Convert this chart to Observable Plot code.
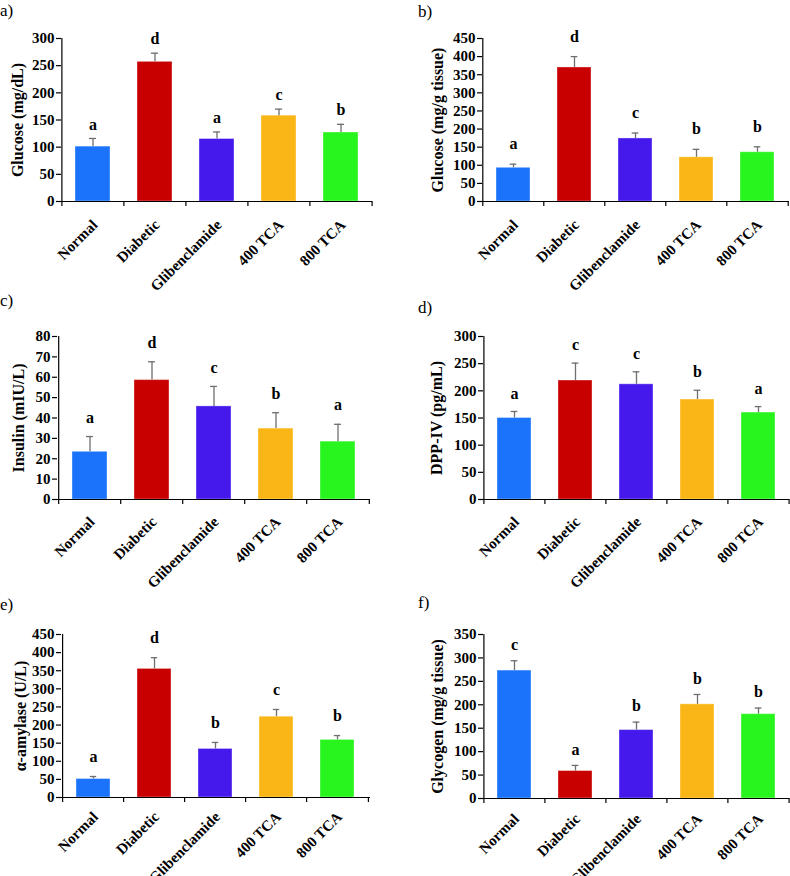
<!DOCTYPE html>
<html><head><meta charset="utf-8">
<script src="https://cdn.jsdelivr.net/npm/d3@7"></script>
<script src="https://cdn.jsdelivr.net/npm/@observablehq/plot@0.6"></script>
<style>
html,body{margin:0;padding:0;background:#fff;overflow:hidden;}
#wrap{position:relative;width:790px;height:876px;}
.panel{position:absolute;}
.plab{position:absolute;font-family:"Liberation Serif","Times New Roman",serif;font-size:17px;line-height:1;color:#000;}
</style></head>
<body><div id="wrap"></div>
<script>
// ---- data ----
const groups = ["Normal", "Diabetic", "Glibenclamide", "400 TCA", "800 TCA"];
const groupColors = ["#1a73fa", "#c80000", "#4519ec", "#fab616", "#28f51e"];

const panelLetters = ["a)", "b)", "c)", "d)", "e)", "f)"];
const yTitles = ["Glucose (mg/dL)", "Glucose (mg/g tissue)", "Insulin (mIU/L)", "DPP-IV (pg/mL)", "α-amylase (U/L)", "Glycogen (mg/g tissue)"];

const serumGlucose = [101, 257, 115, 158, 127];
const serumGlucoseErr = [15, 16, 13, 12, 15];
const serumGlucoseSig = ["a", "d", "a", "c", "b"];
const serumGlucoseTicks = [0, 50, 100, 150, 200, 250, 300];

const tissueGlucose = [93, 370, 174, 122, 136];
const tissueGlucoseErr = [10, 30, 15, 22, 15];
const tissueGlucoseSig = ["a", "d", "c", "b", "b"];
const tissueGlucoseTicks = [0, 50, 100, 150, 200, 250, 300, 350, 400, 450];

const insulin = [23.4, 58.6, 45.7, 34.8, 28.4];
const insulinErr = [7.5, 9, 9.8, 7.8, 8.5];
const insulinSig = ["a", "d", "c", "b", "a"];
const insulinTicks = [0, 10, 20, 30, 40, 50, 60, 70, 80];

const dpp4 = [150, 219, 212, 184, 160];
const dpp4Err = [12, 32, 23, 17, 11];
const dpp4Sig = ["a", "c", "c", "b", "a"];
const dpp4Ticks = [0, 50, 100, 150, 200, 250, 300];

const amylase = [51, 355, 134, 223, 159];
const amylaseErr = [7, 31, 18, 20, 12];
const amylaseSig = ["a", "d", "b", "c", "b"];
const amylaseTicks = [0, 50, 100, 150, 200, 250, 300, 350, 400, 450];

const glycogen = [273, 58.6, 146, 201, 180];
const glycogenErr = [21, 12, 17, 21, 13];
const glycogenSig = ["c", "a", "b", "b", "b"];
const glycogenTicks = [0, 50, 100, 150, 200, 250, 300, 350];

// ---- layout ----
const layouts = [
  {left: 0,   top: 0,   w: 395, h: 290, ml: 61, mr: 23, mt: 38, mb: 89, lo: 50, ldy: 14, xp: 21, lx: 0,   ly: 2},
  {left: 395, top: 0,   w: 395, h: 290, ml: 87, mr: 1,  mt: 38, mb: 89, lo: 51, ldy: 20, xp: 21, lx: 418, ly: 3},
  {left: 0,   top: 290, w: 395, h: 290, ml: 57, mr: 25, mt: 46, mb: 81, lo: 45, ldy: 19, xp: 20, lx: 0,   ly: 292},
  {left: 395, top: 290, w: 395, h: 290, ml: 88, mr: 1,  mt: 46, mb: 81, lo: 53, ldy: 18, xp: 20, lx: 418, ly: 299},
  {left: 0,   top: 580, w: 395, h: 296, ml: 61, mr: 25, mt: 54, mb: 79, lo: 47, ldy: 20, xp: 17, lx: 0,   ly: 596},
  {left: 395, top: 580, w: 395, h: 296, ml: 88, mr: 1,  mt: 54, mb: 78, lo: 52, ldy: 16, xp: 18, lx: 418, ly: 594}
];

const panels = [
  [serumGlucose, serumGlucoseErr, serumGlucoseSig, serumGlucoseTicks],
  [tissueGlucose, tissueGlucoseErr, tissueGlucoseSig, tissueGlucoseTicks],
  [insulin, insulinErr, insulinSig, insulinTicks],
  [dpp4, dpp4Err, dpp4Sig, dpp4Ticks],
  [amylase, amylaseErr, amylaseSig, amylaseTicks],
  [glycogen, glycogenErr, glycogenSig, glycogenTicks]
];

const FONT = "'Liberation Serif','Times New Roman',serif";
const wrap = document.getElementById("wrap");

panels.forEach(([vals, errs, sig, ticks], p) => {
  const L = layouts[p];
  const data = groups.map((g, i) => ({group: g, value: vals[i], top: vals[i] + errs[i], letter: sig[i]}));
  const step = (L.w - L.ml - L.mr) / groups.length;
  const bw = step * 0.56;
  const capInset = (bw - 7) / 2;
  const chart = Plot.plot({
    width: L.w, height: L.h,
    marginLeft: L.ml, marginRight: L.mr, marginTop: L.mt, marginBottom: L.mb,
    style: {fontFamily: FONT, fontWeight: "bold", background: "transparent", overflow: "visible", color: "#000"},
    x: {domain: groups, paddingInner: 0.44, paddingOuter: 0.22, axis: null},
    y: {domain: [ticks[0], ticks[ticks.length - 1]], axis: null},
    color: {domain: groups, range: groupColors},
    marks: [
      Plot.barY(data, {x: "group", y: "value", fill: "group", stroke: "#fff", strokeOpacity: 0.35, strokeWidth: 1}),
      Plot.ruleX(data, {x: "group", y1: "value", y2: "top", stroke: "#6f6f6f", strokeWidth: 1.3}),
      Plot.tickY(data, {x: "group", y: "top", stroke: "#6f6f6f", strokeWidth: 1.3, insetLeft: capInset, insetRight: capInset}),
      Plot.text(data, {x: "group", y: "top", text: "letter", dy: -L.ldy, fontSize: 16, fontWeight: "bold", fill: "#000"}),
      // axis lines
      Plot.ruleY([ticks[0]], {stroke: "#000", strokeWidth: 1.2}),
      Plot.ruleX([groups[0]], {dx: -step / 2, stroke: "#000", strokeWidth: 1.2}),
      // category boundary tick marks
      Plot.ruleX(groups, {x: d => d, y1: () => ticks[0], y2: () => ticks[0], dx: -step / 2, insetBottom: -5, stroke: "#000", strokeWidth: 1.2}),
      Plot.ruleX([groups[groups.length - 1]], {x: d => d, y1: () => ticks[0], y2: () => ticks[0], dx: step / 2, insetBottom: -5, stroke: "#000", strokeWidth: 1.2}),
      Plot.axisY({ticks, tickSize: 5, tickPadding: 2, fontSize: 15, fontWeight: "bold", label: null, strokeWidth: 1.2}),
      Plot.axisY({ticks: [], tickSize: 0, label: yTitles[p], labelAnchor: "center", labelArrow: "none", labelOffset: L.lo, fontSize: 16, fontWeight: "bold"}),
      Plot.axisX({tickRotate: -45, tickSize: 0, tickPadding: L.xp, dx: 2, fontSize: 15, fontWeight: "bold", label: null})
    ]
  });
  chart.classList.add("panel");
  chart.style.left = L.left + "px";
  chart.style.top = L.top + "px";
  wrap.appendChild(chart);

  const lab = document.createElement("div");
  lab.className = "plab";
  lab.textContent = panelLetters[p];
  lab.style.left = L.lx + "px";
  lab.style.top = L.ly + "px";
  wrap.appendChild(lab);
});
</script>
</body></html>
